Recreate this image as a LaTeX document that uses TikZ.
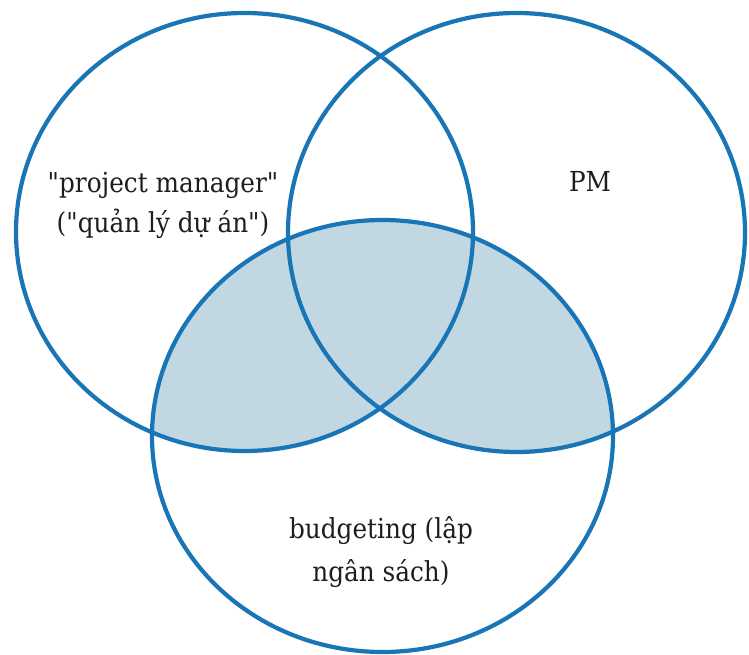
\documentclass[tikz,border=0pt]{standalone}
\usepackage{fontspec}
\setmainfont{DejaVu Serif}[FakeStretch=0.9,Ligatures=TeXOff]
\definecolor{ringblue}{RGB}{25,118,182}
\definecolor{shadeblue}{RGB}{193,216,227}
\definecolor{labelink}{RGB}{30,30,30}
\begin{document}
\begin{tikzpicture}[x=1pt,y=-1pt,
  ring/.style={draw=ringblue,line width=4.2pt},
  lbl/.style={text=labelink,align=center,inner sep=0pt,anchor=base}]
\useasboundingbox (0,0) rectangle (749,655);
\fill[white] (0,0) rectangle (749,655);
\begin{scope}
  \clip (382.5,436) ellipse [x radius=230.5, y radius=216];
  \fill[shadeblue] (244.5,232) ellipse [x radius=228.5, y radius=219];
  \fill[shadeblue] (516.5,232.5) ellipse [x radius=228.5, y radius=219.5];
\end{scope}
\draw[ring] (244.5,232) ellipse [x radius=228.5, y radius=219];
\draw[ring] (516.5,232.5) ellipse [x radius=228.5, y radius=219.5];
\draw[ring] (382.5,436) ellipse [x radius=230.5, y radius=216];
\node[lbl,font=\fontsize{27.5}{39.5}\selectfont] (pmgr) at (163,232) {"project manager"\\("quản lý dự án")};
\node[lbl,font=\fontsize{27.5}{39.5}\selectfont] (pm) at (590,191) {PM};
\node[lbl,font=\fontsize{27.5}{43}\selectfont] (budget) at (381,581) {budgeting (lập\\ngân sách)};
\end{tikzpicture}
\end{document}
